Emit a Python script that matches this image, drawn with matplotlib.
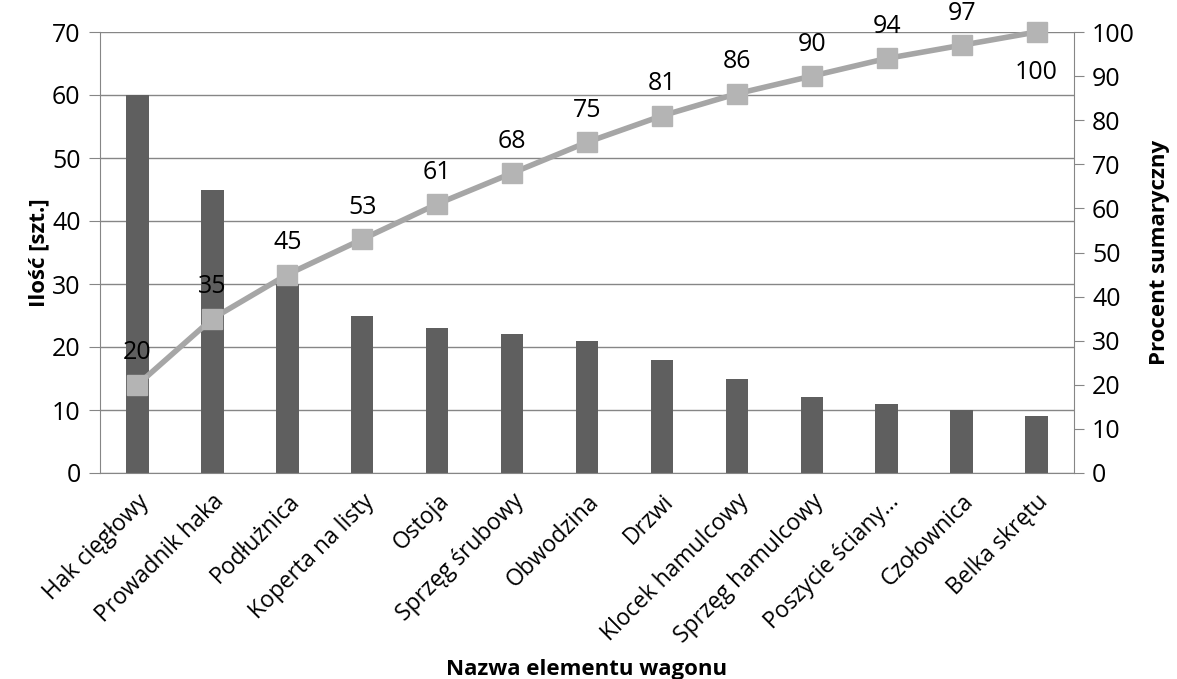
import numpy as np
import matplotlib as mpl
mpl.use('Agg')
from matplotlib import pyplot as plt

# Data
elements = ['Hak cięgłowy', 'Prowadnik haka', 'Podłużnica', 'Koperta na listy', 'Ostoja',
            'Sprzęg śrubowy', 'Obwodzina', 'Drzwi', 'Klocek hamulcowy', 'Sprzęg hamulcowy',
            'Poszycie ściany…', 'Czołownica', 'Belka skrętu']
counts = [60, 45, 30, 25, 23, 22, 21, 18, 15, 12, 11, 10, 9]
cum_pct = [20, 35, 45, 53, 61, 68, 75, 81, 86, 90, 94, 97, 100]

plt.rcParams['font.family'] = ['Open Sans', 'DejaVu Sans']

axis_col = '#868686'
bar_col = '#5f5f5f'
line_col = '#a6a6a6'
fs_num = 18
fs_cat = 16.5

fig = plt.figure(figsize=(11.77, 6.79), dpi=100)
W, H = 1177, 679
ax = fig.add_axes([100/W, 1-473/H, (1074-100)/W, (473-32)/H])
x = np.arange(len(elements))

ax.bar(x, counts, width=0.3, color=bar_col, zorder=2)
ax.set_xlim(-0.5, len(elements)-0.5)
ax.set_ylim(0, 70)
ax.set_yticks(range(0, 71, 10))
ax.yaxis.grid(True, color=axis_col, lw=1, zorder=0)
ax.set_axisbelow(True)
for s in ['top', 'right']:
	ax.spines[s].set_visible(False)
for s in ['left', 'bottom']:
	ax.spines[s].set_color(axis_col)
ax.tick_params(axis='y', colors=axis_col, labelcolor='black', labelsize=fs_num, length=8, pad=6)
ax.tick_params(axis='x', length=0, labelsize=fs_cat, pad=12)
ax.set_xticks(x)
ax.set_xticklabels(elements, rotation=45, ha='right', rotation_mode='anchor')
ax.set_ylabel('Ilość [szt.]', fontsize=16, fontweight='bold', labelpad=2)
ax.set_xlabel('Nazwa elementu wagonu', fontsize=16, fontweight='bold', labelpad=8)

ax2 = ax.twinx()
ax2.set_ylim(0, 100)
ax2.set_yticks(range(0, 101, 10))
for s in ['top', 'left', 'bottom']:
	ax2.spines[s].set_visible(False)
ax2.spines['right'].set_color(axis_col)
ax2.tick_params(axis='y', colors=axis_col, labelcolor='black', labelsize=fs_num, length=7, pad=6)
ax2.set_ylabel('Procent sumaryczny', fontsize=16, fontweight='bold', labelpad=10)
ax2.plot(x, cum_pct, color=line_col, lw=4, marker='s', markersize=14,
	markerfacecolor='#b4b4b4', markeredgecolor='#b4b4b4', zorder=3, clip_on=False)
for xi, v in zip(x, cum_pct):
	if v >= 100:
		# top point: label goes underneath
		ax2.annotate('%d' % v, (xi, v), xytext=(0, -20), textcoords='offset points',
			ha='center', va='top', fontsize=fs_num)
	else:
		ax2.annotate('%d' % v, (xi, v), xytext=(0, 14), textcoords='offset points',
			ha='center', va='bottom', fontsize=fs_num)

fig.savefig('out.png', dpi=100)
